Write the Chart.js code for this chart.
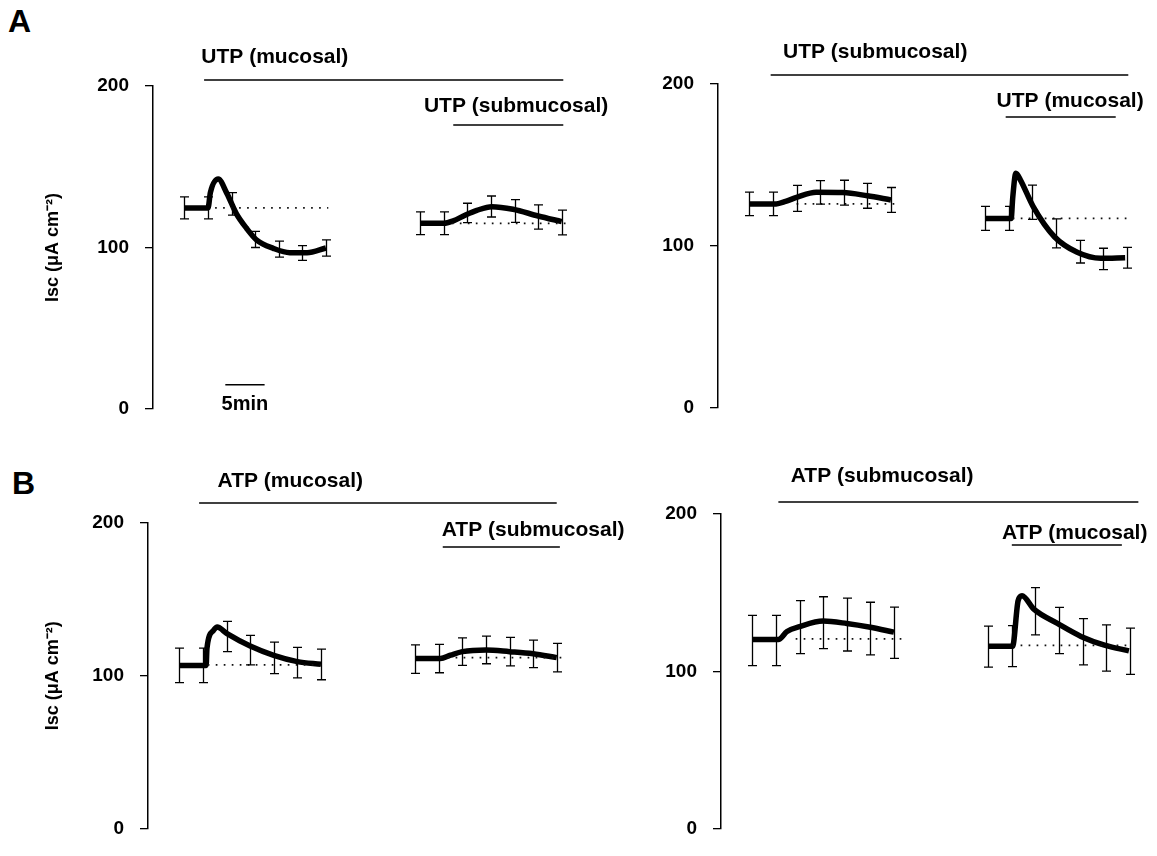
<!DOCTYPE html>
<html>
<head>
<meta charset="utf-8">
<script src="https://cdn.jsdelivr.net/npm/chart.js@4.4.1/dist/chart.umd.min.js"></script>
<style>
  body { margin: 0; background: #fff; width: 1157px; height: 856px; overflow: hidden; position: relative; }
  canvas { position: absolute; }
  .tag { position: absolute; font: bold 32px "Liberation Sans", Arial, sans-serif; color: #000; }
</style>
</head>
<body>
<div class="tag" style="left:8px;top:3px">A</div>
<div class="tag" style="left:12px;top:465px">B</div>
<canvas id="aL"></canvas>
<canvas id="aR"></canvas>
<canvas id="bL"></canvas>
<canvas id="bR"></canvas>
<script>
// time in min, Isc in uA cm-2
const MIN_PX = 7.86;   // px per minute on every panel
const X_MAX = 55;
const yTicks = [0, 100, 200];
const errTimes = [4, 7, 10, 13, 16, 19, 22, 34, 37, 40, 43, 46, 49, 52];

// A left: UTP mucosal, then submucosal
const aL_trace1T = [4, 7, 7.3, 8.3, 9.4, 10.6, 11.9, 13.2, 15.3, 17.4, 19.6, 22];
const aL_trace1V = [124.5, 124.5, 134, 142.4, 133.5, 121, 111.9, 104.6, 99.5, 96.8, 96.8, 99.7];
const aL_trace2T = [34, 37, 38.2, 39.7, 41.2, 43.1, 45.8, 49, 52];
const aL_trace2V = [115, 115, 116.5, 120, 123, 125.3, 123.7, 119.5, 116];
const aL_errMean = [124.5, 124.5, 127, 105, 99, 96.6, 99.7, 115, 115, 121.4, 125.4, 122.6, 118.9, 115.5];
const aL_errHalf = [6.8, 6.8, 7, 5, 5, 4.6, 5, 7, 7, 6, 6.5, 7, 7.5, 7.7];
const aL_baseV = [124.5, 115];
const aL_baseStart = [7.9, 37];
const aL_baseEnd = [22.3, 53];
const aL_drugs = ['UTP (mucosal)', 'UTP (submucosal)'];
const aL_drugOn = [6.5, 38.2];
const aL_drugOff = [52.2, 52.2];
const aL_drugLabelAt = [15.5, 46.2];
const scaleBarT = [9.2, 14.2];
const scaleBarV = 15;

// A right: UTP submucosal, then mucosal
const aR_trace1T = [4, 7.4, 8.6, 10, 12.5, 15.9, 19, 22];
const aR_trace1V = [126, 126, 127.5, 130, 133.2, 133, 131, 128.4];
const aR_trace2T = [34, 37.3, 37.5, 37.9, 38.5, 40.1, 42.8, 45.7, 48.7, 51.8];
const aR_trace2V = [117, 117, 130, 144.9, 140.5, 124.3, 105.7, 96.1, 92.4, 92.8];
const aR_errMean = [126, 126, 129.4, 133.1, 132.9, 131, 128.4, 117, 117, 127, 107.8, 96.5, 92, 92.8];
const aR_errHalf = [7.2, 7.2, 8, 7.2, 7.7, 7.7, 7.7, 7.4, 7.4, 10.6, 9, 7, 6.6, 6.4];
const aR_baseV = [126, 117];
const aR_baseStart = [10, 37.5];
const aR_baseEnd = [22.6, 52];
const aR_drugs = ['UTP (submucosal)', 'UTP (mucosal)'];
const aR_drugOn = [6.7, 36.6];
const aR_drugOff = [52.2, 50.6];
const aR_drugLabelAt = [20, 44.8];

// B left: ATP mucosal, then submucosal
const bL_trace1T = [4, 7.4, 7.5, 8.3, 8.8, 10, 13, 16, 19, 22];
const bL_trace1V = [106.8, 106.8, 118, 129.5, 131.9, 127.8, 119.5, 113.4, 109.3, 107.6];
const bL_trace2T = [34, 37.2, 38.5, 40, 43, 46, 49, 52];
const bL_trace2V = [111.3, 111.3, 113.5, 115.8, 116.9, 115.8, 114.4, 111.9];
const bL_errMean = [106.8, 106.8, 125.7, 116.8, 111.7, 108.6, 107.4, 110.9, 111.3, 115.8, 116.9, 115.8, 114.4, 111.9];
const bL_errHalf = [11.3, 11.3, 9.9, 9.6, 10.3, 10, 10, 9.3, 9.3, 9, 9, 9.3, 9, 9.3];
const bL_baseV = [107.2, 111.9];
const bL_baseStart = [7.6, 37.1];
const bL_baseEnd = [22.3, 52.8];
const bL_drugs = ['ATP (mucosal)', 'ATP (submucosal)'];
const bL_drugOn = [6.5, 37.5];
const bL_drugOff = [52, 52.4];
const bL_drugLabelAt = [18.1, 49];

// B right: ATP submucosal, then mucosal
const bR_trace1T = [4, 7.3, 8.4, 10, 13, 16, 19, 22];
const bR_trace1V = [120.2, 120.2, 125.3, 128.4, 131.9, 130.4, 128, 124.9];
const bR_trace2T = [34, 37.1, 37.8, 38.3, 39.8, 42.8, 45.8, 48.9, 51.9];
const bR_trace2V = [116, 116, 144.9, 148, 139.5, 130.4, 122.2, 116.5, 113];
const bR_errMean = [119.6, 119.6, 128.1, 130.9, 129.7, 127.2, 124.5, 115.7, 116, 138.2, 126, 118.8, 114.8, 112.7];
const bR_errHalf = [16, 16, 16.8, 16.5, 16.8, 16.7, 16.3, 13, 13, 15, 14.7, 14.7, 14.7, 14.7];
const bR_baseV = [120.6, 116.5];
const bR_baseStart = [9.5, 37.1];
const bR_baseEnd = [23, 52];
const bR_drugs = ['ATP (submucosal)', 'ATP (mucosal)'];
const bR_drugOn = [7.3, 37];
const bR_drugOff = [53.1, 51];
const bR_drugLabelAt = [20.5, 45];

const FONT = '"Liberation Sans", Arial, sans-serif';
Chart.defaults.font.family = FONT;
Chart.defaults.color = '#000';

const toXY = (ts, vs) => ts.map((t, i) => ({ x: t, y: vs[i] }));

// error bars, drug bars with labels, and the time scale bar
const panelExtras = {
    id: 'panelExtras',
    afterDatasetsDraw(chart, args, opts) {
        const { ctx, chartArea } = chart;
        const x = chart.scales.x, y = chart.scales.y;
        ctx.save();
        ctx.strokeStyle = '#000';
        ctx.lineWidth = 1.3;
        errTimes.forEach((t, i) => {
            const px = Math.round(x.getPixelForValue(t)) + 0.5;
            const top = y.getPixelForValue(opts.errMean[i] + opts.errHalf[i]);
            const bot = y.getPixelForValue(opts.errMean[i] - opts.errHalf[i]);
            ctx.beginPath();
            ctx.moveTo(px, top); ctx.lineTo(px, bot);
            ctx.moveTo(px - 4.5, top); ctx.lineTo(px + 4.5, top);
            ctx.moveTo(px - 4.5, bot); ctx.lineTo(px + 4.5, bot);
            ctx.stroke();
        });

        ctx.lineWidth = 1.6;
        ctx.fillStyle = '#000';
        ctx.font = 'bold 21px ' + FONT;
        ctx.textAlign = 'center';
        ctx.textBaseline = 'middle';
        opts.drugs.forEach((name, i) => {
            const yb = chartArea.top + opts.barDy[i];
            ctx.beginPath();
            ctx.moveTo(x.getPixelForValue(opts.drugOn[i]), yb);
            ctx.lineTo(x.getPixelForValue(opts.drugOff[i]), yb);
            ctx.stroke();
            ctx.fillText(name, x.getPixelForValue(opts.labelAt[i]), chartArea.top + opts.labelDy[i]);
        });

        if (opts.scaleBar) {
            const mid = (opts.scaleBar[0] + opts.scaleBar[1]) / 2;
            ctx.font = 'bold 20px ' + FONT;
            ctx.fillText('5min', x.getPixelForValue(mid), y.getPixelForValue(scaleBarV) + 20);
        }
        ctx.restore();
    }
};

const panels = [
    { id: 'aL', left: 0, top: 0, w: 640, h: 440, axisX: 153, top200: 86, bottom0: 409, title: true,
      barDy: [-6, 39], labelDy: [-29, 20],
      t1: aL_trace1T, v1: aL_trace1V, t2: aL_trace2T, v2: aL_trace2V,
      errMean: aL_errMean, errHalf: aL_errHalf, baseV: aL_baseV, baseStart: aL_baseStart, baseEnd: aL_baseEnd,
      drugs: aL_drugs, drugOn: aL_drugOn, drugOff: aL_drugOff, labelAt: aL_drugLabelAt, scaleBar: scaleBarT },
    { id: 'aR', left: 640, top: 0, w: 517, h: 440, axisX: 718, top200: 84, bottom0: 408, title: false,
      barDy: [-9, 33], labelDy: [-32, 17],
      t1: aR_trace1T, v1: aR_trace1V, t2: aR_trace2T, v2: aR_trace2V,
      errMean: aR_errMean, errHalf: aR_errHalf, baseV: aR_baseV, baseStart: aR_baseStart, baseEnd: aR_baseEnd,
      drugs: aR_drugs, drugOn: aR_drugOn, drugOff: aR_drugOff, labelAt: aR_drugLabelAt },
    { id: 'bL', left: 0, top: 440, w: 640, h: 416, axisX: 148, top200: 523, bottom0: 847, title: true,
      barDy: [-20, 24], labelDy: [-42, 7],
      t1: bL_trace1T, v1: bL_trace1V, t2: bL_trace2T, v2: bL_trace2V,
      errMean: bL_errMean, errHalf: bL_errHalf, baseV: bL_baseV, baseStart: bL_baseStart, baseEnd: bL_baseEnd,
      drugs: bL_drugs, drugOn: bL_drugOn, drugOff: bL_drugOff, labelAt: bL_drugLabelAt },
    { id: 'bR', left: 640, top: 440, w: 517, h: 416, axisX: 721, top200: 514, bottom0: 838, title: false,
      barDy: [-12, 31], labelDy: [-38, 19],
      t1: bR_trace1T, v1: bR_trace1V, t2: bR_trace2T, v2: bR_trace2V,
      errMean: bR_errMean, errHalf: bR_errHalf, baseV: bR_baseV, baseStart: bR_baseStart, baseEnd: bR_baseEnd,
      drugs: bR_drugs, drugOn: bR_drugOn, drugOff: bR_drugOff, labelAt: bR_drugLabelAt }
];

function makePanel(p) {
    const canvas = document.getElementById(p.id);
    canvas.width = p.w;
    canvas.height = p.h;
    canvas.style.left = p.left + 'px';
    canvas.style.top = p.top + 'px';

    const axisW = p.axisX - p.left;
    const padRight = p.w - axisW - X_MAX * MIN_PX;

    const traceStyle = { borderColor: '#000', borderWidth: 5.5, pointRadius: 0, fill: false,
                         cubicInterpolationMode: 'monotone', borderCapStyle: 'butt' };
    const baseStyle = { borderColor: '#111', borderWidth: 1.7, pointRadius: 0, fill: false,
                        borderDash: [1.7, 6.3] };
    const datasets = [];
    p.baseV.forEach((v, i) => {
        datasets.push(Object.assign({ data: [{ x: p.baseStart[i], y: v }, { x: p.baseEnd[i], y: v }] }, baseStyle));
    });
    datasets.push(Object.assign({ data: toXY(p.t1, p.v1) }, traceStyle));
    datasets.push(Object.assign({ data: toXY(p.t2, p.v2) }, traceStyle));
    if (p.scaleBar) {
        datasets.push({ data: p.scaleBar.map(t => ({ x: t, y: scaleBarV })),
                        borderColor: '#000', borderWidth: 1.6, pointRadius: 0 });
    }

    new Chart(canvas, {
        type: 'line',
        data: { datasets: datasets },
        options: {
            responsive: false,
            animation: false,
            devicePixelRatio: 1,
            layout: { padding: { top: p.top200 - p.top, bottom: p.top + p.h - p.bottom0, left: 0, right: padRight } },
            plugins: {
                legend: { display: false },
                tooltip: { enabled: false },
                panelExtras: p
            },
            scales: {
                x: { type: 'linear', min: 0, max: X_MAX, display: false },
                y: {
                    min: 0, max: 200,
                    afterBuildTicks: s => { s.ticks = yTicks.map(v => ({ value: v })); },
                    afterFit: s => { s.width = axisW; },
                    grid: { display: true, drawOnChartArea: false, drawTicks: true, tickLength: 8,
                            color: '#000', lineWidth: 1.3 },
                    border: { display: true, color: '#000', width: 1.5 },
                    ticks: { padding: 16, color: '#000', font: { size: 19, weight: 'bold' } },
                    title: { display: p.title, text: 'Isc (μA cm⁻²)', color: '#000',
                             font: { size: 18, weight: 'bold' }, padding: { top: 42, bottom: 0 } }
                }
            }
        },
        plugins: [panelExtras]
    });
}

panels.forEach(makePanel);
</script>
</body>
</html>
